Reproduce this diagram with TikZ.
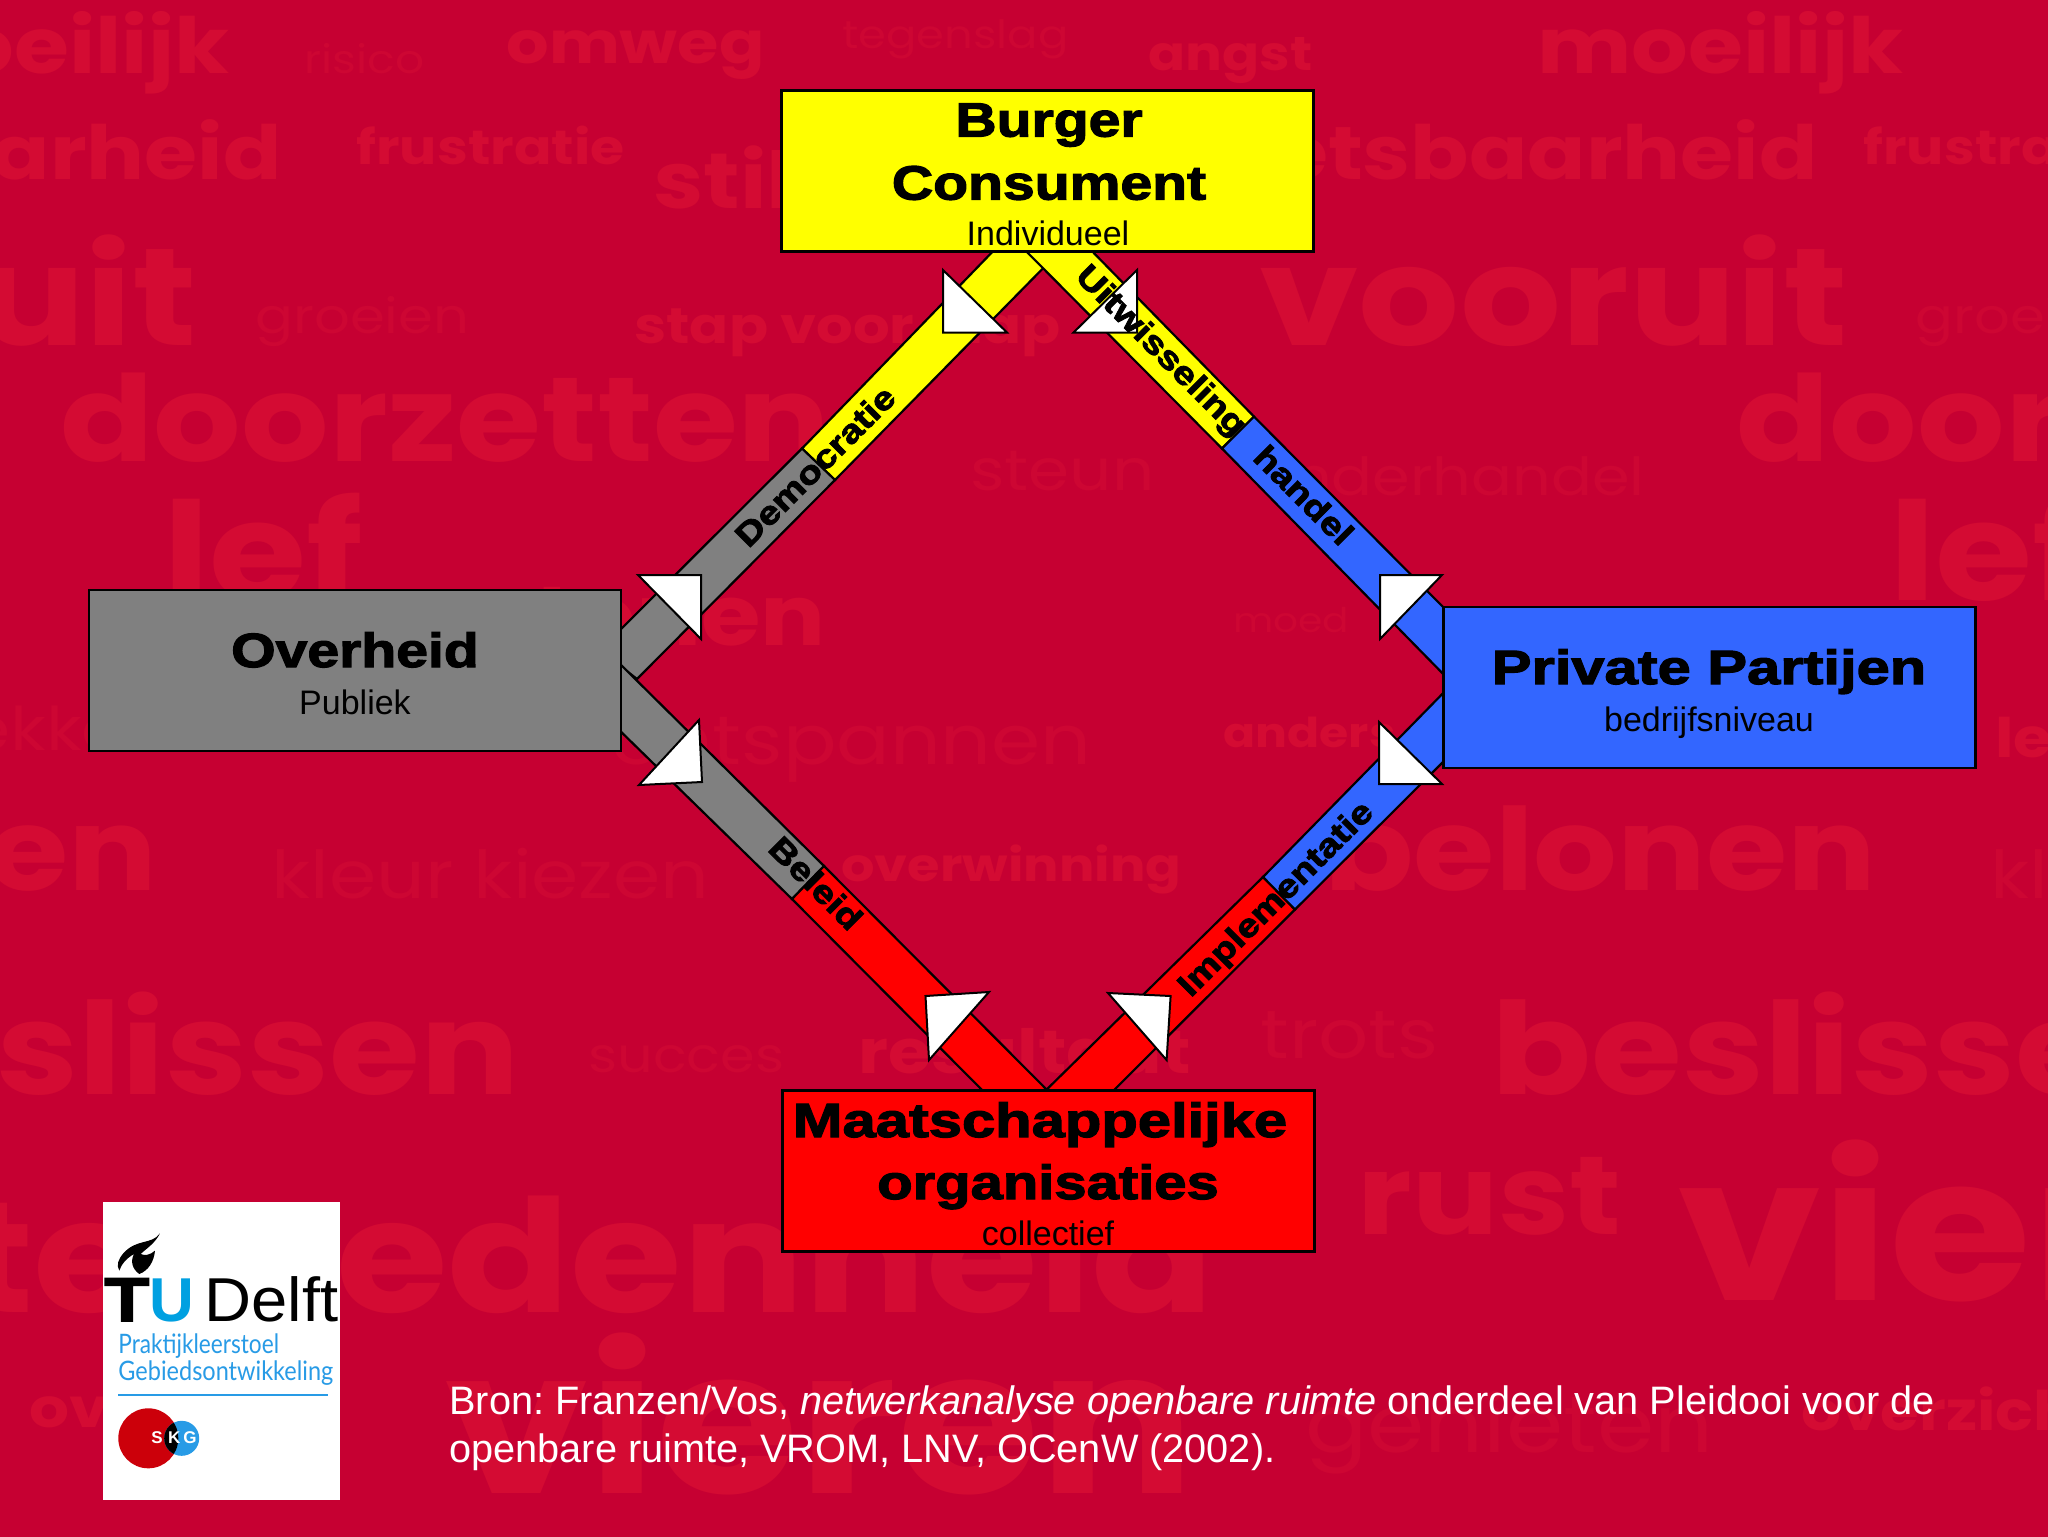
\documentclass[tikz,border=0pt]{standalone}
\usepackage{fontspec}
\usepackage{graphicx}
\setmainfont{Liberation Sans}
\newfontfamily\heavy[BoldFeatures={FakeStretch=1.19,FakeBold=2.6}]{Liberation Sans}
\newfontfamily\bgfont{Poppins}
\newfontfamily\logofont{Lato}
\definecolor{bgred}{RGB}{198,0,50}
\definecolor{wordbold}{RGB}{212,11,51}
\definecolor{wordthin}{RGB}{205,6,51}
\definecolor{byellow}{RGB}{255,255,0}
\definecolor{bgray}{RGB}{128,128,128}
\definecolor{bblue}{RGB}{51,102,255}
\definecolor{bred}{RGB}{255,0,0}
\definecolor{tublue}{RGB}{0,160,225}
\definecolor{lblue}{RGB}{40,155,230}
\definecolor{skgred}{RGB}{204,0,10}
\newcounter{bgw}
% #1 x, #2 baseline, #3 width in pt, #4 word
\newcommand\bgbold[4]{\stepcounter{bgw}\node[bgbase,text=wordbold,font=\bgfont\bfseries] (w\thebgw) at (#1,#2) {\scalebox{1}[0.87]{\resizebox{#3pt}{!}{#4}}};}
\newcommand\bgthin[4]{\stepcounter{bgw}\node[bgbase,text=wordthin,font=\bgfont] (w\thebgw) at (#1,#2) {\scalebox{1}[0.87]{\resizebox{#3pt}{!}{#4}}};}
\tikzset{
  bgbase/.style={anchor=base west,inner sep=0pt},
  boxnode/.style={draw=black,line width=1.3pt,inner sep=0pt,minimum width=266pt,minimum height=80.5pt},
  band/.style={draw=black,line width=1.1pt,line join=miter},
  tri/.style={draw=black,fill=white,line width=1pt,line join=miter},
  title/.style={anchor=base,inner sep=0pt,font=\heavy\bfseries\fontsize{24}{28}\selectfont,text=black},
  sub/.style={anchor=base,inner sep=0pt,font=\fontsize{17}{20}\selectfont,text=black},
  bandlabel/.style={inner sep=0pt,font=\heavy\bfseries\fontsize{16.3}{20}\selectfont,text=black},
  logotext/.style={anchor=base west,inner sep=0pt,text=lblue,font=\logofont\fontsize{13.4}{16}\selectfont},
  caption/.style={anchor=base west,inner sep=0pt,text=white,font=\frenchspacing\fontsize{19.85}{24}\selectfont},
}
\begin{document}
\begin{tikzpicture}[x=0.5pt,y=-0.5pt]
\useasboundingbox (0,0) rectangle (2048,1536);
\fill[bgred] (-8,-8) rectangle (2056,1544);
\begin{scope}
\clip (0,0) rectangle (2048,1536);
\bgbold{-137}{74}{183}{moeilijk}
\bgbold{1537}{74}{183}{moeilijk}
\bgthin{304}{74}{60}{risico}
\bgbold{506}{64}{129}{omweg}
\bgthin{842}{49}{113}{tegenslag}
\bgbold{1148}{71}{82}{angst}
\bgbold{-389}{179}{335}{kwetsbaarheid}
\bgbold{1147}{179}{335}{kwetsbaarheid}
\bgbold{356}{164}{134}{frustratie}
\bgbold{1863}{164}{134}{frustratie}
\bgbold{653}{208}{70}{stil}
\bgbold{-392}{345}{294}{vooruit}
\bgbold{1259}{345}{294}{vooruit}
\bgthin{255}{333}{107}{groeien}
\bgthin{1915}{333}{107}{groeien}
\bgbold{634}{343}{213}{stap voor stap}
\bgbold{60}{461}{385}{doorzetten}
\bgbold{1736}{461}{385}{doorzetten}
\bgthin{970}{490}{92}{steun}
\bgthin{1254}{495}{195}{onderhandel}
\bgbold{163}{600}{100}{lef}
\bgbold{1889}{600}{100}{lef}
\bgbold{535}{645}{145}{tonen}
\bgthin{1233}{632}{58}{moed}
\bgthin{611}{764}{240}{ontspannen}
\bgbold{1223}{747}{86}{anders}
\bgthin{-50}{750}{100}{lekker}
\bgbold{1995}{757}{100}{lekker}
\bgbold{-395}{890}{276}{belonen}
\bgbold{1324}{890}{276}{belonen}
\bgthin{271}{898}{219}{kleur kiezen}
\bgthin{1990}{898}{219}{kleur kiezen}
\bgbold{841}{881}{170}{overwinning}
\bgbold{-195}{1094}{357}{beslissen}
\bgbold{1491}{1094}{357}{beslissen}
\bgthin{588}{1072}{98}{succes}
\bgbold{858}{1073}{166}{resultaat}
\bgthin{1260}{1058}{89}{trots}
\bgbold{1357}{1234}{132}{rust}
\bgbold{1677}{1300}{375}{vieren}
\bgbold{444}{1493}{375}{vieren}
\bgbold{-40}{1312}{627}{tevredenheid}
\bgbold{29}{1427}{150}{overzicht}
\bgbold{1801}{1430}{150}{overzicht}
\bgthin{1305}{1452}{204}{genieten}
\end{scope}

% corner coordinates of the bands
\coordinate (dA) at (1000,244); \coordinate (dB) at (1059,252);
\coordinate (dC) at (835,480);  \coordinate (dD) at (802,448.5);
\coordinate (dE) at (637,679);  \coordinate (dF) at (600,650);
\coordinate (uA) at (1017,242); \coordinate (uB) at (1084,243);
\coordinate (uC) at (1254,416.6); \coordinate (uD) at (1222,448.5);
\coordinate (uE) at (1453,617); \coordinate (uF) at (1453,684);
\coordinate (bA) at (611,655);  \coordinate (bB) at (611,722);
\coordinate (bC) at (792,899);  \coordinate (bD) at (824,866);
\coordinate (bE) at (1056,1099); \coordinate (bF) at (991,1099);
\coordinate (iA) at (1037,1099); \coordinate (iB) at (1105,1099);
\coordinate (iC) at (1295,909.5); \coordinate (iD) at (1263,877);
\coordinate (iE) at (1453,683); \coordinate (iF) at (1453,752);

% bands
\draw[band,fill=byellow] (dA) -- (dB) -- (dC) -- (dD) -- cycle;
\draw[band,fill=bgray] (dD) -- (dC) -- (dE) -- (dF) -- cycle;
\draw[band,fill=byellow] (uA) -- (uB) -- (uC) -- (uD) -- cycle;
\draw[band,fill=bblue] (uD) -- (uC) -- (uE) -- (uF) -- cycle;
\draw[band,fill=bgray] (bA) -- (bD) -- (bC) -- (bB) -- cycle;
\draw[band,fill=bred] (bC) -- (bD) -- (bE) -- (bF) -- cycle;
\draw[band,fill=bred] (iA) -- (iD) -- (iC) -- (iB) -- cycle;
\draw[band,fill=bblue] (iD) -- (iE) -- (iF) -- (iC) -- cycle;

% boxes
\node[boxnode,fill=byellow] (burger) at (1047.5,171) {};
\node[boxnode,fill=bgray] (overheid) at (355,670.5) {};
\node[boxnode,fill=bblue] (private) at (1709.5,687.5) {};
\node[boxnode,fill=bred] (maat) at (1048.5,1171) {};

% white triangles
\draw[tri] (943,270) -- (943,332.5) -- (1007,332.5) -- cycle;
\draw[tri] (638,575) -- (701,575) -- (701,639) -- cycle;
\draw[tri] (1137,270) -- (1137,332.5) -- (1073.5,332.5) -- cycle;
\draw[tri] (1380,575) -- (1442,575) -- (1380,639) -- cycle;
\draw[tri] (1379,722) -- (1379,784) -- (1442,784) -- cycle;
\draw[tri] (699,720) -- (702,782) -- (639,785) -- cycle;
\draw[tri] (925.5,996) -- (989,992) -- (929,1060) -- cycle;
\draw[tri] (1108,993) -- (1170.6,996) -- (1166.6,1060) -- cycle;

% box texts
\node[title] (t1) at (1049,136.5) {Burger};
\node[title] (t2) at (1049,199.5) {Consument};
\node[sub] (t3) at (1048,245.5) {Individueel};
\node[title] (t4) at (355,667) {Overheid};
\node[sub] (t5) at (355,714) {Publiek};
\node[title] (t6) at (1709,684) {\scalebox{1.045}[1]{Private Partijen}};
\node[sub] (t7) at (1709,731) {bedrijfsniveau};
\node[title] (t8) at (1040,1137) {\scalebox{1.045}[1]{Maatschappelijke}};
\node[title] (t9) at (1048,1199) {\scalebox{1.015}[1]{organisaties}};
\node[sub] (t10) at (1048,1245) {collectief};

% band labels
\node[bandlabel,rotate=45] (l1) at (815,466) {Democratie};
\node[bandlabel,rotate=-45] (l2) at (1160,352) {Uitwisseling};
\node[bandlabel,rotate=-45] (l3) at (1304,495) {handel};
\node[bandlabel,rotate=-45] (l4) at (816,883) {Beleid};
\node[bandlabel,rotate=45] (l5) at (1277,900) {Implementatie};

% logo
\fill[white] (103,1202) rectangle (340,1500);
\begin{scope}[shift={(80,1180)},scale=0.3333]
\fill[black] (240,160) .. controls (215,195) and (170,175) .. (130,220)
  .. controls (115,238) and (108,255) .. (118,272)
  .. controls (125,250) and (140,235) .. (162,222)
  .. controls (150,245) and (158,268) .. (178,282)
  .. controls (205,272) and (222,245) .. (225,212)
  .. controls (210,225) and (195,228) .. (182,222)
  .. controls (200,205) and (225,190) .. (240,160) -- cycle;
\end{scope}
\node[anchor=base west,inner sep=0pt,font=\heavy\bfseries\fontsize{31}{34}\selectfont,text=black] (tuT) at (104,1321) {T};
\node[anchor=base west,inner sep=0pt,font=\bfseries\fontsize{31}{34}\selectfont,text=tublue] (tuU) at (149,1321) {U};
\node[anchor=base west,inner sep=0pt,font=\fontsize{31}{34}\selectfont,text=black] (delft) at (204,1321) {\scalebox{1.05}[1]{Delft}};
\node[logotext] (lg1) at (118,1353) {\scalebox{0.846}[1]{Praktijkleerstoel}};
\node[logotext] (lg2) at (118,1380) {\scalebox{0.877}[1]{Gebiedsontwikkeling}};
\draw[lblue,line width=1pt] (118,1395) -- (328,1395);
\fill[skgred] (148.3,1438.3) circle[radius=30];
\fill[lblue] (181.7,1438.3) circle[radius=17.5];
\begin{scope}
\clip (148.3,1438.3) circle[radius=30];
\fill[black] (181.7,1438.3) circle[radius=17.5];
\end{scope}
\node[inner sep=0pt,text=white,font=\bfseries\fontsize{8.5}{9}\selectfont] (skgS) at (157,1438) {S};
\node[inner sep=0pt,text=white,font=\bfseries\fontsize{8.5}{9}\selectfont] (skgK) at (174.3,1438) {K};
\node[inner sep=0pt,text=white,font=\bfseries\fontsize{8.5}{9}\selectfont] (skgG) at (190,1438) {G};

% caption
\node[caption] (c1) at (449,1414) {Bron: Franzen/Vos, \textit{netwerkanalyse openbare ruimte} onderdeel van Pleidooi voor de};
\node[caption] (c2) at (449,1462) {openbare ruimte, VROM, LNV, OCenW (2002).};
\end{tikzpicture}
\end{document}
